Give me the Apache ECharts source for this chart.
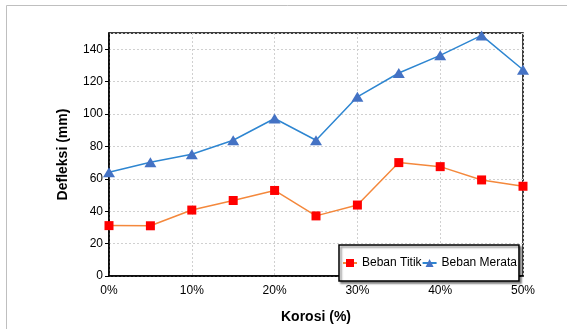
<!DOCTYPE html>
<html>
<head>
<meta charset="utf-8">
<script src="https://cdn.jsdelivr.net/npm/echarts@6/dist/echarts.min.js"></script>
<style>
html,body{margin:0;padding:0;background:#fff;}
#c{width:567px;height:329px;}
</style>
</head>
<body>
<div id="c"></div>
<script>
const korosi = [0, 5, 10, 15, 20, 25, 30, 35, 40, 45, 50];
const bebanTitik = [31.1, 31.0, 40.7, 46.6, 52.8, 37.1, 43.8, 70.0, 67.5, 59.3, 55.4];
const bebanMerata = [64.0, 70.2, 75.2, 83.8, 97.2, 83.8, 110.6, 125.3, 136.2, 148.5, 127.3];
const seriesNames = ['Beban Titik', 'Beban Merata'];
const xTitle = 'Korosi (%)';
const yTitle = 'Defleksi (mm)';

const font = 'Liberation Sans, Arial, sans-serif';
const chart = echarts.init(document.getElementById('c'), null, {renderer: 'canvas'});
chart.setOption({
  animation: false,
  backgroundColor: '#fff',
  graphic: [{
    type: 'rect', shape: {x: 6.5, y: 5.5, width: 600, height: 400},
    style: {fill: 'none', stroke: '#bfbfbf', lineWidth: 1}, z: -10
  }],
  grid: {left: 109, right: 44, top: 33, bottom: 44, show: true, borderColor: '#000', borderWidth: 1.5, backgroundColor: 'transparent'},
  xAxis: {
    type: 'value', min: 0, max: 50, interval: 10,
    name: xTitle, nameLocation: 'middle', nameGap: 34,
    nameTextStyle: {fontFamily: font, fontSize: 14, fontWeight: 'bold', color: '#000'},
    axisLine: {lineStyle: {color: '#000', width: 1.5}},
    axisTick: {show: false},
    axisLabel: {formatter: '{value}%', fontFamily: font, fontSize: 12, color: '#000', margin: 9, hideOverlap: false},
    splitLine: {show: true, lineStyle: {color: '#d0d0d0', type: [2, 2], width: 1}}
  },
  yAxis: {
    type: 'value', min: 0, max: 150, interval: 20,
    name: yTitle, nameLocation: 'middle', nameGap: 39, nameRotate: 90,
    nameTextStyle: {fontFamily: font, fontSize: 14, fontWeight: 'bold', color: '#000'},
    axisLine: {show: true, lineStyle: {color: '#000', width: 1.5}},
    axisTick: {show: true, length: 4, lineStyle: {color: '#000', width: 1}},
    axisLabel: {fontFamily: font, fontSize: 12, color: '#000', margin: 6, showMaxLabel: false},
    splitLine: {show: true, lineStyle: {color: '#d0d0d0', type: [2, 2], width: 1}}
  },
  legend: {
    left: 339, top: 245,
    orient: 'horizontal', itemGap: 0, itemWidth: 14, itemHeight: 10,
    padding: [12, 2, 12, 3],
    borderColor: '#000', borderWidth: 1.5, backgroundColor: '#fff',
    shadowColor: 'rgba(0,0,0,0.45)', shadowOffsetX: 2, shadowOffsetY: 2, shadowBlur: 2,
    textStyle: {fontFamily: font, fontSize: 12, color: '#000'},
    data: seriesNames
  },
  series: [
    {
      name: seriesNames[0], type: 'line',
      data: korosi.map((k, i) => [k, bebanTitik[i]]),
      symbol: 'rect', symbolSize: 9,
      itemStyle: {color: '#ff0000'},
      lineStyle: {color: '#f4883c', width: 1.5},
      z: 3
    },
    {
      name: seriesNames[1], type: 'line',
      data: korosi.map((k, i) => [k, bebanMerata[i]]),
      symbol: 'triangle', symbolSize: [12, 10],
      itemStyle: {color: '#4472c4'},
      lineStyle: {color: '#2e86d1', width: 1.5},
      z: 3
    }
  ]
});
</script>
</body>
</html>
